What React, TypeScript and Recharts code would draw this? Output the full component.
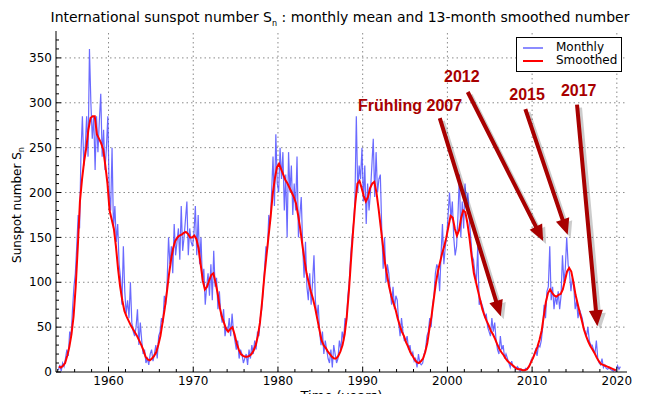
import { LineChart, Line, XAxis, YAxis, ReferenceLine, ReferenceDot } from 'recharts'

const FONT = '"DejaVu Sans", sans-serif'
const START_YEAR = 1954

// two-monthly means, 6 per year (1954 .. mid 2020)
const monthly = [
  2, 8, 1, 10, 6, 15, // 1954
  25, 18, 45, 40, 70, 95,
  110, 140, 175, 160, 245, 285,
  230, 250, 285, 240, 360, 300,
  260, 285, 225, 285, 245, 280,
  310, 240, 270, 225, 250, 285, // 1959
  200, 180, 250, 160, 185, 145,
  165, 120, 105, 75, 140, 90,
  65, 80, 60, 100, 55, 45,
  40, 50, 70, 30, 55, 35,
  20, 25, 10, 15, 8, 20,
  25, 12, 20, 30, 15, 40, // 1965
  45, 60, 55, 85, 75, 100,
  150, 120, 140, 110, 165, 130,
  145, 160, 125, 185, 135, 150,
  170, 190, 130, 160, 145, 140,
  155, 185, 130, 175, 120, 150, // 1970
  100, 115, 75, 95, 110, 85,
  120, 80, 135, 95, 105, 70,
  90, 65, 55, 70, 40, 50,
  45, 60, 40, 65, 45, 35,
  25, 35, 15, 25, 20, 10, // 1975
  15, 20, 8, 25, 15, 30,
  20, 35, 25, 45, 40, 60,
  70, 90, 115, 140, 135, 175,
  165, 200, 240, 185, 265, 210,
  200, 250, 215, 245, 180, 220, // 1980
  150, 245, 200, 230, 175, 210,
  180, 240, 150, 175, 195, 140,
  105, 145, 95, 80, 110, 75,
  100, 130, 80, 60, 75, 45,
  30, 45, 20, 35, 25, 15, // 1985
  10, 25, 5, 30, 20, 10,
  15, 35, 25, 45, 35, 60,
  55, 85, 100, 130, 150, 165,
  190, 285, 200, 230, 215, 250,
  190, 230, 165, 210, 180, 200, // 1990
  230, 260, 195, 245, 200, 215,
  220, 160, 115, 150, 100, 120,
  110, 90, 75, 95, 70, 85,
  80, 55, 40, 60, 45, 35,
  35, 40, 25, 30, 18, 22, // 1995
  12, 15, 5, 20, 10, 8,
  10, 20, 25, 40, 45, 60,
  50, 75, 85, 110, 120, 115,
  90, 130, 165, 120, 140, 150,
  175, 200, 170, 190, 150, 130, // 2000
  140, 175, 220, 150, 190, 160,
  210, 185, 200, 170, 150, 130,
  125, 110, 100, 140, 75, 80,
  75, 70, 60, 65, 50, 45,
  40, 60, 45, 55, 35, 25, // 2005
  20, 40, 25, 30, 15, 20,
  15, 10, 5, 12, 6, 5,
  3, 6, 4, 1, 3, 2,
  2, 4, 3, 6, 8, 14,
  15, 20, 25, 18, 30, 28, // 2010
  35, 50, 75, 60, 90, 95,
  140, 80, 95, 70, 85, 75,
  90, 70, 85, 130, 100, 115,
  150, 120, 110, 90, 105, 95,
  70, 80, 60, 70, 65, 60, // 2015
  50, 45, 40, 50, 35, 30,
  30, 25, 20, 35, 15, 10,
  8, 15, 5, 8, 4, 3,
  5, 3, 2, 1, 2, 1,
  7, 3, 6, // 2020
]

// 13-month smoothed (1954 .. 2019)
const smoothed = [
  6, 5, 7, 10, // 1954
  18, 28, 42, 62,
  95, 140, 190, 215,
  235, 250, 270, 283,
  285, 285, 265, 260,
  255, 248, 230, 210,
  180, 170, 160, 140, // 1960
  115, 95, 80, 68,
  62, 57, 52, 48,
  44, 40, 35, 30,
  24, 17, 14, 13,
  15, 18, 22, 30,
  40, 55, 70, 88,
  108, 125, 138, 146,
  150, 152, 153, 155,
  156, 154, 150, 150,
  152, 148, 138, 120, // 1970
  102, 92, 95, 102,
  108, 110, 100, 88,
  72, 62, 55, 48,
  45, 48, 50, 42,
  32, 25, 20, 18,
  17, 17, 18, 20,
  24, 30, 40, 55,
  78, 105, 128, 150,
  172, 198, 215, 228,
  232, 226, 220, 214, // 1980
  210, 205, 200, 195,
  188, 175, 160, 142,
  125, 110, 100, 90,
  82, 72, 60, 48,
  36, 30, 27, 23,
  20, 17, 15, 15,
  18, 23, 30, 42,
  62, 90, 125, 158,
  188, 210, 213, 205,
  196, 190, 195, 205, // 1990
  210, 212, 200, 182,
  162, 142, 122, 108,
  95, 85, 77, 70,
  60, 52, 45, 40,
  33, 28, 22, 18,
  14, 11, 10, 12,
  15, 22, 32, 48,
  62, 80, 98, 112,
  122, 132, 140, 150,
  162, 174, 172, 160, // 2000
  152, 158, 172, 180,
  178, 165, 148, 128,
  110, 100, 90, 80,
  70, 63, 57, 52,
  46, 42, 37, 31,
  26, 22, 19, 15,
  12, 10, 8, 6,
  4, 3, 3, 2,
  2, 3, 6, 11,
  16, 22, 28, 36, // 2010
  46, 62, 78, 88,
  92, 88, 85, 84,
  86, 87, 92, 102,
  112, 116, 112, 100,
  86, 76, 66, 57,
  47, 40, 34, 29,
  25, 21, 16, 12,
  9, 8, 7, 6,
  5, 4, 3, 2, // 2019
]

const xTicks = [1954, 1956, 1958, 1960, 1962, 1964, 1966, 1968, 1970, 1972, 1974, 1976, 1978, 1980, 1982, 1984, 1986, 1988, 1990, 1992, 1994, 1996, 1998, 2000, 2002, 2004, 2006, 2008, 2010, 2012, 2014, 2016, 2018, 2020]
const xMajor = [1960, 1970, 1980, 1990, 2000, 2010, 2020]
const yTicks = [0, 10, 20, 30, 40, 50, 60, 70, 80, 90, 100, 110, 120, 130, 140, 150, 160, 170, 180, 190, 200, 210, 220, 230, 240, 250, 260, 270, 280, 290, 300, 310, 320, 330, 340, 350, 360, 370]
const yMajor = [50, 100, 150, 200, 250, 300, 350]

// annotation arrows, in data units (year, sunspot number)
const arrows = [
  { x1: 1999.1, y1: 283, x2: 2006.3, y2: 62 },
  { x1: 2002.4, y1: 312, x2: 2011.3, y2: 146 },
  { x1: 2009.2, y1: 293, x2: 2014.2, y2: 153 },
  { x1: 2015.3, y1: 298, x2: 2017.7, y2: 51 },
]
const notes = [
  { text: 'Frühling 2007', x: 1995.6, y: 297 },
  { text: '2012', x: 2001.7, y: 329 },
  { text: '2015', x: 2009.4, y: 309 },
  { text: '2017', x: 2015.5, y: 314 },
]

const monthlyData = monthly.map((v, i) => ({ t: START_YEAR + (i + 0.5) / 6, v }))
const smoothedData = smoothed.map((v, i) => ({ t: START_YEAR + (i + 0.5) / 4, v }))

const ARROW_RED = '#a80000'
const GRID = { stroke: '#8a8a8a', strokeDasharray: '1.5 3', strokeWidth: 1 }

function ArrowShape(p: any) {
  const { x1, y1, x2, y2 } = p
  const dx = x2 - x1
  const dy = y2 - y1
  const len = Math.hypot(dx, dy) || 1
  const ux = dx / len, uy = dy / len
  const nx = -uy, ny = ux
  const head = 16, hw = 7, sw = 2
  const bx = x2 - ux * head, by = y2 - uy * head
  const pts = [
    [x1 + nx * sw, y1 + ny * sw],
    [bx + nx * sw, by + ny * sw],
    [bx + nx * hw, by + ny * hw],
    [x2, y2],
    [bx - nx * hw, by - ny * hw],
    [bx - nx * sw, by - ny * sw],
    [x1 - nx * sw, y1 - ny * sw],
  ].map((q) => q.join(',')).join(' ')
  return (
    <g>
      <polygon points={pts} fill="#000" opacity={0.2} transform="translate(3,3)" />
      <polygon points={pts} fill={ARROW_RED} />
    </g>
  )
}

function NoteText(text: string) {
  return (p: any) => (
    <text x={p.cx} y={p.cy} dy="0.35em" textAnchor="middle" fill={ARROW_RED}
      fontFamily='"Liberation Sans", Arial, sans-serif' fontWeight="bold" fontSize={16}>
      {text}
    </text>
  )
}

function BottomTick(p: any) {
  const { x, y, payload } = p
  const major = xMajor.includes(payload.value)
  return (
    <g>
      <line x1={x} x2={x} y1={y} y2={y - (major ? 5 : 3)} stroke="#000" />
      {major && (
        <text x={x} y={y + 4} dy="0.71em" textAnchor="middle" fontSize={12} fontFamily={FONT} fill="#000">
          {payload.value}
        </text>
      )}
    </g>
  )
}

function TopTick(p: any) {
  const { x, y, payload } = p
  const major = xMajor.includes(payload.value)
  return <line x1={x} x2={x} y1={y} y2={y + (major ? 5 : 3)} stroke="#000" />
}

function LeftTick(p: any) {
  const { x, y, payload } = p
  const major = payload.value % 50 === 0
  return (
    <g>
      <line x1={x} x2={x + (major ? 5 : 3)} y1={y} y2={y} stroke="#000" />
      {major && (
        <text x={x - 4} y={y} dy="0.35em" textAnchor="end" fontSize={12} fontFamily={FONT} fill="#000">
          {payload.value}
        </text>
      )}
    </g>
  )
}

function RightTick(p: any) {
  const { x, y, payload } = p
  const major = payload.value % 50 === 0
  return <line x1={x} x2={x - (major ? 5 : 3)} y1={y} y2={y} stroke="#000" />
}

export default function App() {
  return (
    <div style={{ position: 'relative', width: 648, height: 394, background: '#fff', fontFamily: FONT, overflow: 'hidden' }}>
      <style>{'body{margin:0}'}</style>
      <div style={{ position: 'absolute', top: 9, left: 0, width: 648, paddingLeft: 32, boxSizing: 'border-box', textAlign: 'center', fontSize: 14, whiteSpace: 'nowrap', color: '#000' }}>
        International sunspot number S<sub style={{ fontSize: 8 }}>n</sub> : monthly mean and 13-month smoothed number
      </div>
      <div style={{ position: 'absolute', left: 18, top: 205, transform: 'translate(-50%,-50%) rotate(-90deg)', fontSize: 12, whiteSpace: 'nowrap', color: '#000' }}>
        Sunspot number S<sub style={{ fontSize: 8 }}>n</sub>
      </div>
      <LineChart width={648} height={394} margin={{ top: 31, right: 21, bottom: 0, left: 0 }} style={{ position: 'absolute', left: 0, top: 0 }}>
        <XAxis dataKey="t" type="number" domain={[1953.8, 2021.2]} allowDataOverflow ticks={xTicks} interval={0}
          height={22} tickSize={0} tickMargin={0} tickLine={false} tick={BottomTick} axisLine={{ stroke: '#000' }}
          label={{ value: 'Time (years)', position: 'bottom', offset: -3, fontSize: 13, fill: '#000', fontFamily: FONT }} />
        <XAxis xAxisId="top" orientation="top" dataKey="t" type="number" domain={[1953.8, 2021.2]} allowDataOverflow ticks={xTicks}
          interval={0} height={0} tickSize={0} tickMargin={0} tickLine={false} tick={TopTick} axisLine={{ stroke: '#000' }} />
        <YAxis type="number" domain={[0, 380]} allowDataOverflow ticks={yTicks} interval={0} width={56}
          tickSize={0} tickMargin={0} tickLine={false} tick={LeftTick} axisLine={{ stroke: '#000' }} />
        <YAxis yAxisId="right" orientation="right" type="number" domain={[0, 380]} allowDataOverflow ticks={yTicks} interval={0}
          width={0} tickSize={0} tickMargin={0} tickLine={false} tick={RightTick} axisLine={{ stroke: '#000' }} />
        {xMajor.map((v) => <ReferenceLine key={'gx' + v} x={v} {...GRID} />)}
        {yMajor.map((v) => <ReferenceLine key={'gy' + v} y={v} {...GRID} />)}
        <Line data={monthlyData} dataKey="v" type="linear" stroke="#5050ff" strokeWidth={1.2} strokeOpacity={0.85} dot={false} isAnimationActive={false} />
        <Line data={smoothedData} dataKey="v" type="linear" stroke="#ff0000" strokeWidth={2} dot={false} isAnimationActive={false} />
        {arrows.map((a, i) => (
          <ReferenceLine key={'a' + i} segment={[{ x: a.x1, y: a.y1 }, { x: a.x2, y: a.y2 }]} shape={ArrowShape} ifOverflow="visible" />
        ))}
        {notes.map((n) => (
          <ReferenceDot key={n.text} x={n.x} y={n.y} r={0} shape={NoteText(n.text)} ifOverflow="visible" />
        ))}
      </LineChart>
      <div style={{ position: 'absolute', left: 516, top: 37, width: 106, height: 35, boxSizing: 'border-box', border: '1px solid #000', background: '#fff', fontSize: 12, color: '#000' }}>
        {[
          { name: 'Monthly', color: '#8c8cff' },
          { name: 'Smoothed', color: '#ff0000' },
        ].map((l, i) => (
          <div key={l.name} style={{ position: 'absolute', left: 0, top: 3 + i * 13, height: 13, display: 'flex', alignItems: 'center' }}>
            <span style={{ display: 'inline-block', marginLeft: 6, width: 20, height: 2, background: l.color }} />
            <span style={{ marginLeft: 13, lineHeight: '13px' }}>{l.name}</span>
          </div>
        ))}
      </div>
    </div>
  )
}
